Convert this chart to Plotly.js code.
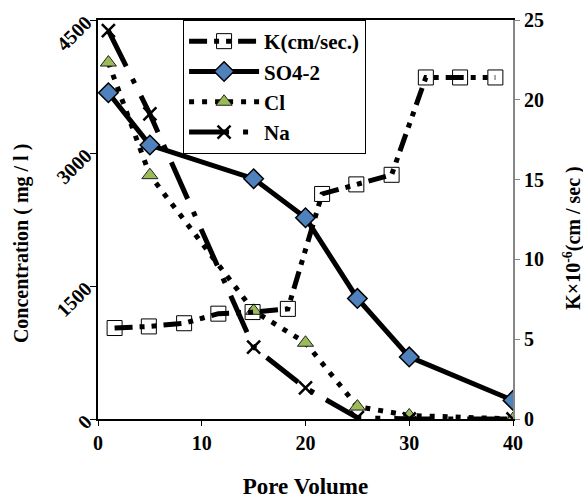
<!DOCTYPE html>
<html>
<head>
<meta charset="utf-8">
<script src="https://cdn.plot.ly/plotly-3.0.1.min.js"></script>
<style>html,body{margin:0;padding:0;background:#fff}#chart{width:583px;height:499px}</style>
</head>
<body>
<div id="chart"></div>
<script>
// Pore volumes for concentration series
var poreVolume = [1, 5, 15, 20, 25, 30, 40];
var so4 = [3680, 3090, 2710, 2270, 1360, 700, 210];
var cl = [4020, 2750, 1220, 860, 140, 40, 0];
var na = [4380, 3440, 810, 350, 15, 0, 0];
// Hydraulic conductivity K (x10^-6 cm/sec)
var kPore = [1.6, 4.9, 8.3, 11.6, 14.9, 18.3, 21.6, 24.9, 28.3, 31.6, 34.9, 38.3];
var kVal = [5.7, 5.8, 6.0, 6.6, 6.7, 6.9, 14.1, 14.7, 15.3, 21.4, 21.4, 21.4];
var xTicks = [0, 10, 20, 30, 40];
var yTicks = [0, 1500, 3000, 4500];
var y2Ticks = [0, 5, 10, 15, 20, 25];

var FONT = 'Liberation Serif';

var traces = [
  {x: kPore, y: kVal, name: 'K(cm/sec.)', yaxis: 'y2', mode: 'lines+markers',
   line: {color: '#000', width: 5, dash: '18px,7px,5px,7px,5px,7px'},
   marker: {symbol: 'square-open', size: 15, color: '#000', line: {width: 1, color: '#000'}}},
  {x: poreVolume, y: so4, name: 'SO4-2', mode: 'lines+markers',
   line: {color: '#000', width: 5},
   marker: {symbol: 'diamond', size: 15, color: '#4F81BD', line: {width: 1.5, color: '#000'}}},
  {x: poreVolume, y: cl, name: 'Cl', mode: 'lines+markers',
   line: {color: '#000', width: 5, dash: '5px,8px'},
   marker: {symbol: 'triangle-up', size: 14, color: '#9BBB59', line: {width: 1, color: '#222'}}},
  {x: poreVolume, y: na, name: 'Na', mode: 'lines+markers',
   line: {color: '#000', width: 5, dash: '40px,14px,5px,14px'},
   marker: {symbol: 'x-thin-open', size: 13, color: '#000', line: {width: 2.5, color: '#000'}}}
];

var layout = {
  width: 583, height: 499,
  margin: {l: 98, r: 70, t: 20, b: 80},
  paper_bgcolor: '#fff', plot_bgcolor: '#fff',
  font: {family: FONT, color: '#000', size: 19, weight: 'bold'},
  showlegend: true,
  legend: {x: 0.205, y: 1, xanchor: 'left', yanchor: 'top', bgcolor: '#fff',
           bordercolor: '#000', borderwidth: 1, itemwidth: 70,
           font: {family: FONT, size: 21, color: '#000', weight: 'bold'}},
  xaxis: {range: [0, 40], tickvals: xTicks, ticktext: xTicks.map(String),
          showgrid: false, zeroline: false, showline: true, linecolor: '#000', linewidth: 2,
          mirror: true, ticks: 'outside', ticklen: 5, tickcolor: '#000', tickwidth: 1,
          tickfont: {family: FONT, size: 20, weight: 'bold'},
          title: {text: 'Pore Volume', font: {family: FONT, size: 23, weight: 'bold'}, standoff: 28}},
  yaxis: {range: [0, 4500], tickvals: yTicks, ticktext: yTicks.map(String),
          showgrid: false, zeroline: false, showline: true, linecolor: '#000', linewidth: 2,
          ticks: 'outside', ticklen: 6, tickcolor: '#000', tickwidth: 1, tickangle: -45,
          tickfont: {family: FONT, size: 20, weight: 'bold'}},
  yaxis2: {range: [0, 25], tickvals: y2Ticks, ticktext: y2Ticks.map(String), overlaying: 'y', side: 'right',
           showgrid: false, zeroline: false, showline: true, linecolor: '#868686', linewidth: 2,
           ticks: 'outside', ticklen: 5, tickcolor: '#868686', tickwidth: 1,
           tickfont: {family: FONT, size: 20, weight: 'bold'}},
  annotations: [
    {text: 'Concentration ( mg / l )', xref: 'paper', yref: 'paper', x: -0.184, y: 0.44,
     textangle: -90, showarrow: false, xanchor: 'center', yanchor: 'middle',
     font: {family: FONT, size: 20, weight: 'bold'}},
    {text: 'K×10<sup>-6</sup>(cm / sec )', xref: 'paper', yref: 'paper', x: 1.143, y: 0.455,
     textangle: -90, showarrow: false, xanchor: 'center', yanchor: 'middle',
     font: {family: FONT, size: 20, weight: 'bold'}}
  ]
};

Plotly.newPlot('chart', traces, layout, {displayModeBar: false, staticPlot: true});
</script>
</body>
</html>
